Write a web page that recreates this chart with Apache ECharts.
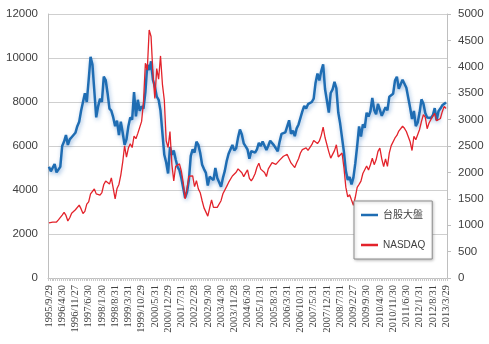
<!DOCTYPE html>
<html><head><meta charset="utf-8">
<script src="https://cdn.jsdelivr.net/npm/echarts@6/dist/echarts.min.js"></script>
<style>html,body{margin:0;padding:0;background:#fff}#c{width:489px;height:344px}</style>
</head><body><div id="c"></div>
<script>
// Visible x tick labels (every 7th month, starting 1995/9)
const tickLabels = ["1995/9/29","1996/4/30","1996/11/27","1997/6/30","1998/1/30","1998/8/31","1999/3/31","1999/10/29","2000/5/31","2000/12/29","2001/7/31","2002/2/28","2002/9/30","2003/4/30","2003/11/28","2004/6/30","2005/1/31","2005/8/31","2006/3/31","2006/10/31","2007/5/31","2007/12/31","2008/7/31","2009/2/27","2009/9/30","2010/4/30","2010/11/30","2011/6/30","2012/1/31","2012/8/31","2013/3/29"];
const seriesNames = ["台股大盤","NASDAQ"];
// 台股大盤 monthly (left axis)
const taiex = [
5060,4850,4900,5180,
4800,4750,5050,6000,6200,6500,6050,6300,6400,6450,6600,6900,
7100,7600,8000,8400,8000,9000,10050,9700,8500,7300,7800,8150,
8000,9150,9000,8400,7700,7600,7300,6900,7150,6500,7100,6600,
6050,6300,6900,7300,7200,8450,7350,8100,7600,7800,7700,8450,
9700,9450,9850,9000,8700,8250,8100,7600,6600,5600,5250,4750,
5950,5600,5800,5400,5050,4900,4550,4600,3650,3900,4450,5550,
5850,5700,6200,6050,5680,5150,4950,4780,4200,4600,4650,4450,
5000,4550,4350,4150,4550,4870,5320,5650,5600,6050,5800,5900,
6380,6750,6520,6120,5980,5840,5420,5770,5850,5700,5850,6140,
6000,6200,6010,5820,6010,6240,6310,6030,6120,5760,6200,6550,
6530,6620,6610,7170,6550,6700,6450,6800,6980,7020,7570,7820,
7700,7900,7880,8000,8150,8880,9290,8980,9410,9710,8590,8510,
7520,8410,8570,8920,8620,7520,7020,7050,5720,4870,4460,4590,
4250,4560,5210,6000,6890,6430,6980,6830,7510,7340,7580,8190,
7640,7440,7920,8000,7370,7330,7760,7620,8240,8290,8370,8970,
9150,8600,8680,9010,9000,8650,8640,7740,7230,7590,6900,7070,
7520,8120,7930,7500,7300,7300,7270,7400,7720,7170,7580,7700,
7850,7920,7980];
// NASDAQ monthly (right axis)
const nasdaq = [
1044,1036,1059,1052,
1060,1100,1101,1191,1243,1185,1081,1141,1227,1222,1293,1291,
1380,1309,1222,1261,1400,1442,1594,1587,1686,1593,1601,1570,
1619,1771,1835,1868,1779,1895,1873,1499,1694,1771,1950,2193,
2505,2288,2461,2543,2471,2686,2638,2739,2746,2966,3336,4069,
3940,4697,4573,3861,3401,3966,3767,4206,3673,3370,2598,2471,
2773,2152,1840,2116,2110,2161,2027,1805,1499,1690,1931,1950,
1934,1731,1845,1688,1616,1463,1328,1315,1172,1330,1479,1336,
1321,1338,1341,1464,1596,1623,1735,1810,1787,1932,1960,2003,
2066,2030,1994,1920,1987,2048,1887,1838,1897,1975,2097,2175,
2062,2052,1999,1922,2068,2057,2185,2152,2152,2120,2233,2205,
2306,2281,2340,2323,2179,2172,2091,2184,2258,2367,2432,2415,
2464,2416,2422,2525,2605,2603,2546,2596,2702,2859,2661,2652,
2389,2271,2279,2413,2523,2293,2326,2368,2092,1721,1536,1577,
1476,1378,1529,1717,1774,1835,1979,2009,2122,2045,2145,2269,
2147,2238,2398,2461,2257,2109,2255,2114,2369,2507,2498,2653,
2700,2782,2781,2874,2835,2774,2756,2579,2415,2684,2620,2605,
2814,2967,3092,3046,2827,2935,2940,3067,3116,2977,3010,3020,
3150,3250,3210];

const categories = [];
for (let i = 0; i < taiex.length; i++) {
  if (i % 7 === 0) { categories.push(tickLabels[i / 7]); }
  else {
    const mm = 8 + i; const y = 1995 + Math.floor(mm / 12); const m = mm % 12 + 1;
    categories.push(y + "/" + m);
  }
}
const plain = v => String(v);

const chart = echarts.init(document.getElementById('c'), null, {renderer: 'canvas'});
chart.setOption({
  animation: false,
  backgroundColor: '#ffffff',
  grid: {left: 48, right: 42, top: 14, bottom: 66},
  legend: {
    orient: 'vertical', left: 354, top: 201,
    padding: [7, 7, 7, 7], itemGap: 16, itemWidth: 17, itemHeight: 2.5,
    icon: 'rect',
    backgroundColor: '#ffffff', borderColor: '#8c8c8c', borderWidth: 1,
    shadowColor: 'rgba(0,0,0,0.25)', shadowBlur: 3, shadowOffsetX: 1, shadowOffsetY: 1,
    textStyle: {fontFamily: 'Liberation Sans, Noto Sans CJK TC, sans-serif', fontSize: 10, lineHeight: 14, color: '#404040'},
    data: seriesNames
  },
  xAxis: {
    type: 'category', data: categories, boundaryGap: true,
    axisLine: {lineStyle: {color: '#bfbfbf'}},
    axisTick: {show: true, interval: 0, length: 3, lineStyle: {color: '#c8c8c8'}},
    axisLabel: {interval: 6, rotate: 90, margin: 7, fontFamily: 'Liberation Serif, serif', fontSize: 10.5, color: '#404040'},
    splitLine: {show: false}
  },
  yAxis: [
    {type: 'value', min: 0, max: 12000, interval: 2000, position: 'left',
     axisLine: {show: true, lineStyle: {color: '#bfbfbf'}}, axisTick: {show: false},
     axisLabel: {margin: 10, formatter: plain, fontFamily: 'Liberation Sans, sans-serif', fontSize: 11.5, color: '#404040'},
     splitLine: {lineStyle: {color: '#cfcfcf'}}},
    {type: 'value', min: 0, max: 5000, interval: 500, position: 'right',
     axisLine: {show: true, lineStyle: {color: '#bfbfbf'}},
     axisTick: {show: true, inside: false, length: 4, lineStyle: {color: '#bfbfbf'}},
     axisLabel: {margin: 11, formatter: plain, fontFamily: 'Liberation Sans, sans-serif', fontSize: 11.5, color: '#404040'},
     splitLine: {show: false}}
  ],
  series: [
    {name: seriesNames[0], type: 'line', yAxisIndex: 0, data: taiex, symbol: 'none', showSymbol: false,
     itemStyle: {color: '#1f6db3'},
     lineStyle: {color: '#1f6db3', width: 2.5, shadowColor: 'rgba(40,110,190,0.45)', shadowBlur: 4, shadowOffsetX: 1, shadowOffsetY: 2}},
    {name: seriesNames[1], type: 'line', yAxisIndex: 1, data: nasdaq, symbol: 'none', showSymbol: false,
     itemStyle: {color: '#e3232b'},
     lineStyle: {color: '#e3232b', width: 1.3}}
  ]
});
</script>
</body></html>
